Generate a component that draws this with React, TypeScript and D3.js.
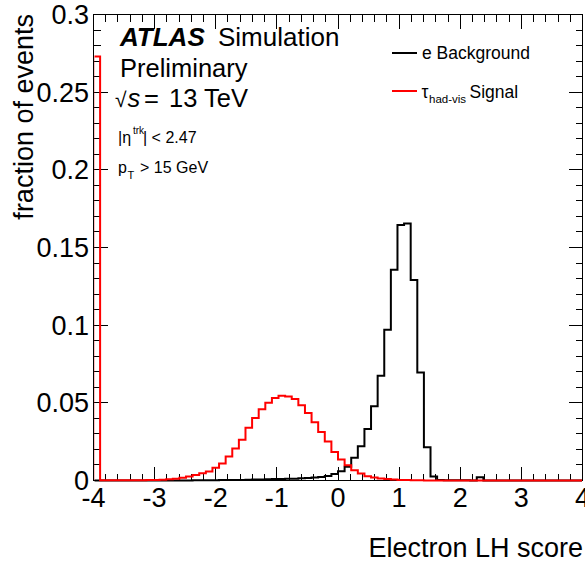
import React from 'react';
import * as d3 from 'd3';

const W = 585;
const H = 565;

const xTicks = [-4, -3, -2, -1, 0, 1, 2, 3, 4];
const xTickLabels = ['-4', '-3', '-2', '-1', '0', '1', '2', '3', '4'];
const yTicks = [0, 0.05, 0.1, 0.15, 0.2, 0.25, 0.3];
const yTickLabels = ['0', '0.05', '0.1', '0.15', '0.2', '0.25', '0.3'];

const xMin = -4;
const xMax = 4;
const nBins = 74;

// e Background (black), fraction of events per bin
const background = [
  0, 0, 0, 0, 0, 0, 0, 0, 0, 0,
  0, 0, 0, 0, 0, 0.0001, 0.0001, 0.0002, 0.0002, 0.0003,
  0.0003, 0.0004, 0.0004, 0.0005, 0.0006, 0.0007, 0.0008, 0.0009, 0.001, 0.0011,
  0.0012, 0.0014, 0.0016, 0.0019, 0.0023, 0.0029, 0.0042, 0.006, 0.0088, 0.0146,
  0.022, 0.0332, 0.0478, 0.0675, 0.097, 0.1356, 0.1645, 0.1655, 0.129, 0.0696,
  0.0214, 0.0026, 0.0003, 0.0001, 0.0001, 0.0001, 0.0001, 0, 0.0021, 0,
  0, 0, 0, 0, 0, 0, 0, 0, 0, 0,
  0, 0, 0, 0,
];

// tau_had-vis Signal (red)
const signal = [
  0.273, 0.0001, 0.0001, 0.0001, 0.0001, 0.0001, 0.0002, 0.0002, 0.0003, 0.0004,
  0.0005, 0.0008, 0.0012, 0.0018, 0.0026, 0.0036, 0.0046, 0.0058, 0.0082, 0.011,
  0.0154, 0.0206, 0.0263, 0.0339, 0.0403, 0.0458, 0.0501, 0.0531, 0.0546, 0.054,
  0.0525, 0.0484, 0.0435, 0.0375, 0.0313, 0.0251, 0.0184, 0.0135, 0.0098, 0.0066,
  0.0045, 0.0028, 0.0019, 0.0013, 0.0009, 0.0006, 0.0004, 0.0003, 0.0002, 0.0001,
  0, 0, 0, 0, 0, 0, 0, 0, 0, 0,
  0, 0, 0, 0, 0, 0, 0, 0, 0, 0,
  0, 0, 0, 0,
];

const FONT = "'Liberation Sans', Arial, Helvetica, sans-serif";

export default function App() {
  const x = d3.scaleLinear().domain([xMin, xMax]).range([93.5, 582.5]);
  const y = d3.scaleLinear().domain([0, 0.3]).range([480.5, 14.5]);

  const bw = (xMax - xMin) / nBins;
  const histPath = (vals: number[]) => {
    const pts: [number, number][] = [[xMin, 0]];
    vals.forEach((v, i) => pts.push([xMin + i * bw, v]));
    pts.push([xMax, 0]);
    return d3
      .line<[number, number]>()
      .x((d) => x(d[0]))
      .y((d) => y(d[1]))
      .curve(d3.curveStepAfter)(pts) as string;
  };

  const xMinor = d3.range(-4, 4.0001, 0.2).filter((v) => Math.abs(v - Math.round(v)) > 1e-6);
  const yMinor = d3.range(0, 0.30001, 0.01).filter((v) => Math.abs(v / 0.05 - Math.round(v / 0.05)) > 1e-6);

  const L = x(xMin), R = x(xMax), T = y(0.3), B = y(0);
  const majX = 14, minX = 7, majY = 14, minY = 7;

  return (
    <svg
      width={W}
      height={H}
      style={{ position: 'fixed', left: 0, top: 0, background: '#fff' }}
      fontFamily={FONT}
    >
      <defs>
        <clipPath id="frameClip">
          <rect x={L + 1} y={0} width={R - L - 1.5} height={B + 1.5} />
        </clipPath>
      </defs>
      <rect x={0} y={0} width={W} height={H} fill="#fff" />
      {/* frame */}
      <rect x={L} y={T} width={R - L} height={B - T} fill="none" stroke="#000" strokeWidth={1} shapeRendering="crispEdges" />
      {/* ticks on all four sides */}
      <g stroke="#000" strokeWidth={1} shapeRendering="crispEdges">
        {xTicks.map((v) => (
          <g key={'xt' + v}>
            <line x1={x(v)} x2={x(v)} y1={B} y2={B - majX} />
            <line x1={x(v)} x2={x(v)} y1={T} y2={T + majX} />
          </g>
        ))}
        {xMinor.map((v) => (
          <g key={'xm' + v}>
            <line x1={x(v)} x2={x(v)} y1={B} y2={B - minX} />
            <line x1={x(v)} x2={x(v)} y1={T} y2={T + minX} />
          </g>
        ))}
        {yTicks.map((v) => (
          <g key={'yt' + v}>
            <line x1={L} x2={L + majY} y1={y(v)} y2={y(v)} />
            <line x1={R} x2={R - majY} y1={y(v)} y2={y(v)} />
          </g>
        ))}
        {yMinor.map((v) => (
          <g key={'ym' + v}>
            <line x1={L} x2={L + minY} y1={y(v)} y2={y(v)} />
            <line x1={R} x2={R - minY} y1={y(v)} y2={y(v)} />
          </g>
        ))}
      </g>

      {/* histograms */}
      <g clipPath="url(#frameClip)">
        <path d={histPath(background)} fill="none" stroke="#000" strokeWidth={2} />
        <path d={histPath(signal)} fill="none" stroke="#ff0000" strokeWidth={2} />
      </g>

      {/* tick labels */}
      <g fontSize={27} fill="#000">
        {xTicks.map((v, i) => (
          <text key={'xl' + v} x={x(v)} y={507} textAnchor="middle">
            {xTickLabels[i]}
          </text>
        ))}
        {yTicks.map((v, i) => (
          <text key={'yl' + v} x={89} y={y(v)} dy="0.35em" textAnchor="end">
            {yTickLabels[i]}
          </text>
        ))}
      </g>

      {/* axis titles */}
      <text x={583} y={557} fontSize={27} textAnchor="end">
        Electron LH score
      </text>
      <text transform="translate(33,14) rotate(-90)" fontSize={27} textAnchor="end">
        fraction of events
      </text>

      {/* ATLAS label */}
      <text y={46} fontSize={26}>
        <tspan x={120} fontWeight="bold" fontStyle="italic">ATLAS</tspan>
        <tspan x={218}>Simulation</tspan>
      </text>
      <text x={120} y={77} fontSize={25.5}>
        Preliminary
      </text>
      <text y={107} fontSize={25.5}>
        <tspan x={115} fontSize={21}>√</tspan>
        <tspan x={127.5} fontStyle="italic">s</tspan>
        <tspan x={144}>=</tspan>
        <tspan x={169}>13 TeV</tspan>
      </text>
      <text y={143} fontSize={16}>
        <tspan x={118}>|η</tspan>
        <tspan x={133} fontSize={10} dy={-9}>trk</tspan>
        <tspan x={143} dy={9}>| &lt; 2.47</tspan>
      </text>
      <text y={173} fontSize={16}>
        <tspan x={118}>p</tspan>
        <tspan x={127.5} fontSize={11} dy={6}>T</tspan>
        <tspan x={140} dy={-6}>&gt; 15 GeV</tspan>
      </text>

      {/* legend */}
      <line x1={392} x2={417} y1={53} y2={53} stroke="#000" strokeWidth={2} />
      <text x={422} y={59} fontSize={17.5}>
        e Background
      </text>
      <line x1={392} x2={417} y1={91} y2={91} stroke="#ff0000" strokeWidth={2} />
      <text y={98} fontSize={17.5}>
        <tspan x={421.5}>τ</tspan>
        <tspan x={429} fontSize={11.5} dy={4.5}>had-vis</tspan>
        <tspan x={469.5} dy={-4.5}>Signal</tspan>
      </text>
    </svg>
  );
}
